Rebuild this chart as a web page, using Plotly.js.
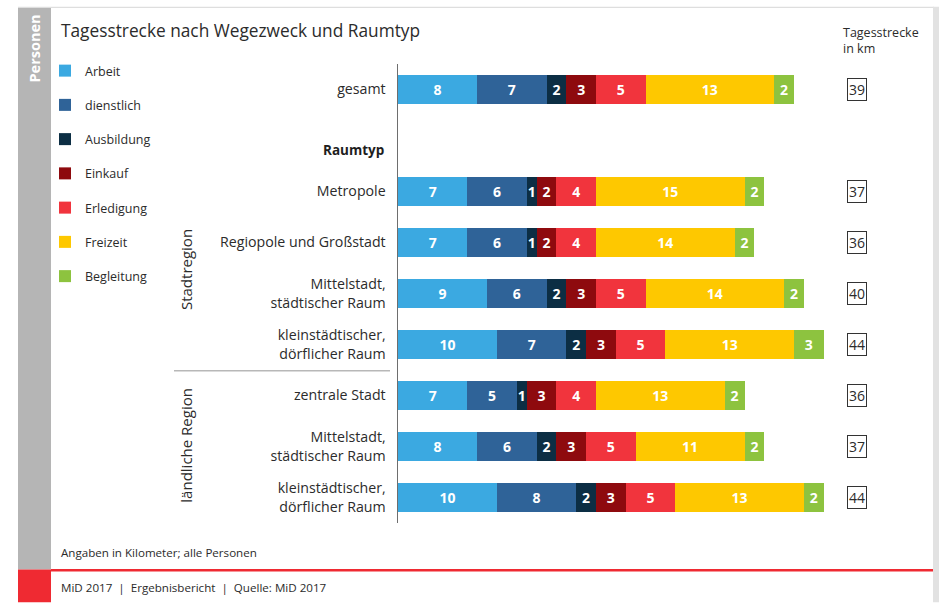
<!DOCTYPE html>
<html>
<head>
<meta charset="utf-8">
<script src="https://cdn.plot.ly/plotly-3.0.1.min.js"></script>
<style>
  html, body { margin: 0; padding: 0; background: #fff; }
  #chart { width: 940px; height: 603px; }
</style>
</head>
<body>
<div id="chart"></div>
<script>
// Rows of the chart (ids keep duplicate labels apart on the category axis)
const rowIds = ['gesamt', 'metropole', 'regiopole', 'mittel_stadt', 'klein_stadt',
                'zentral_land', 'mittel_land', 'klein_land'];
const rowLabels = ['gesamt', 'Metropole', 'Regiopole und Großstadt',
                   'Mittelstadt,<br>städtischer Raum', 'kleinstädtischer,<br>dörflicher Raum',
                   'zentrale Stadt', 'Mittelstadt,<br>städtischer Raum',
                   'kleinstädtischer,<br>dörflicher Raum'];
const headerId = 'raumtyp';
const headerLabel = 'Raumtyp';

// Trip purposes (km per person and day)
const purposes = ['Arbeit', 'dienstlich', 'Ausbildung', 'Einkauf', 'Erledigung', 'Freizeit', 'Begleitung'];
const arbeit     = [8, 7, 7, 9, 10, 7, 8, 10];
const dienstlich = [7, 6, 6, 6, 7, 5, 6, 8];
const ausbildung = [2, 1, 1, 2, 2, 1, 2, 2];
const einkauf    = [3, 2, 2, 3, 3, 3, 3, 3];
const erledigung = [5, 4, 4, 5, 5, 4, 5, 5];
const freizeit   = [13, 15, 14, 14, 13, 13, 11, 13];
const begleitung = [2, 2, 2, 2, 3, 2, 2, 2];
const totals     = [39, 37, 36, 40, 44, 36, 37, 44];

const series = [arbeit, dienstlich, ausbildung, einkauf, erledigung, freizeit, begleitung];
const colors = ['#3ba9e1', '#2f6398', '#0c2e44', '#8e0a0e', '#f1343d', '#fec800', '#8dc33f'];

const FONT = '"Open Sans", "Noto Sans", sans-serif';
const TEXT = '#2b2b2b';

// Page geometry in pixels; the plot area sits between these edges
const W = 940, H = 603;
const L = 398, R = 828, T = 63.5, B = 523.5;
const px = x => (x - L) / (R - L);
const py = y => (B - y) / (B - T);

const traces = purposes.map((name, i) => ({
  type: 'bar',
  orientation: 'h',
  name: name,
  legendgroup: name,
  y: rowIds,
  x: series[i],
  text: series[i].map(String),
  texttemplate: '%{text}',
  textposition: 'inside',
  insidetextanchor: 'middle',
  textangle: 0,
  textfont: { family: FONT, size: 14, color: '#ffffff', weight: 'bold' },
  marker: { color: colors[i], line: { width: 0 } },
  width: 0.56,
  hoverinfo: 'name+x'
}));

const annotations = [];
// Title
annotations.push({
  xref: 'paper', yref: 'paper', x: px(59), y: py(30), xanchor: 'left', yanchor: 'middle',
  text: 'Tagesstrecke nach Wegezweck und Raumtyp', showarrow: false,
  font: { family: FONT, size: 17.3, color: TEXT }
});
// Sidebar label
annotations.push({
  xref: 'paper', yref: 'paper', x: px(35), y: py(48), xanchor: 'center', yanchor: 'middle',
  text: '<b>Personen</b>', textangle: -90, showarrow: false,
  font: { family: FONT, size: 14.5, color: '#ffffff' }
});
// Header row for the area types
annotations.push({
  xref: 'paper', yref: 'paper', x: px(386), y: py(150), xanchor: 'right', yanchor: 'middle',
  text: '<b>' + headerLabel + '</b>', showarrow: false,
  font: { family: FONT, size: 13.5, color: '#1e1e1e' }
});
// Header above the total column
annotations.push({
  xref: 'paper', yref: 'paper', x: px(841), y: py(21), xanchor: 'left', yanchor: 'top',
  text: 'Tagesstrecke<br>in km', align: 'left', showarrow: false,
  font: { family: FONT, size: 12.5, color: TEXT }
});
// Region groups
annotations.push({
  xref: 'paper', yref: 'paper', x: px(186), y: py(270), xanchor: 'center', yanchor: 'middle',
  text: 'Stadtregion', textangle: -90, showarrow: false,
  font: { family: FONT, size: 15, color: TEXT }
});
annotations.push({
  xref: 'paper', yref: 'paper', x: px(186), y: py(446), xanchor: 'center', yanchor: 'middle',
  text: 'ländliche Region', textangle: -90, showarrow: false,
  font: { family: FONT, size: 15, color: TEXT }
});
// Total distance per row, boxed
rowIds.forEach((id, i) => {
  annotations.push({
    xref: 'paper', yref: 'y', x: px(857), y: id, xanchor: 'center', yanchor: 'middle',
    text: String(totals[i]), showarrow: false,
    bordercolor: '#333333', borderwidth: 1, borderpad: 1,
    font: { family: FONT, size: 14, color: TEXT }
  });
});
// Footnotes
annotations.push({
  xref: 'paper', yref: 'paper', x: px(59), y: py(553), xanchor: 'left', yanchor: 'middle',
  text: 'Angaben in Kilometer; alle Personen', showarrow: false,
  font: { family: FONT, size: 11.6, color: TEXT }
});
annotations.push({
  xref: 'paper', yref: 'paper', x: px(59), y: py(588), xanchor: 'left', yanchor: 'middle',
  text: 'MiD 2017  |  Ergebnisbericht  |  Quelle: MiD 2017', showarrow: false,
  font: { family: FONT, size: 11.6, color: TEXT }
});

const rect = (x0, y0, x1, y1, color) => ({
  type: 'rect', xref: 'paper', yref: 'paper', layer: 'below',
  x0: px(x0), x1: px(x1), y0: py(y0), y1: py(y1),
  fillcolor: color, line: { width: 0 }
});

const shapes = [
  rect(18, 7, 51, 570, '#b5b5b5'),          // grey side band
  rect(18, 570, 51, 603, '#ef2a32'),        // red corner block
  rect(51, 569.5, 934, 572, '#ef2a32'),     // red footer rule
  rect(18, 6, 934, 7.5, '#dedede'),         // top frame line
  rect(933, 6, 939, 603, '#e2e2e2'),        // right frame band
  { type: 'line', xref: 'paper', yref: 'paper',
    x0: px(174), x1: px(390), y0: py(371), y1: py(371),
    line: { color: '#b8b8b8', width: 1.5 } }
];

const layout = {
  width: W, height: H,
  margin: { l: L, r: W - R, t: T, b: H - B, pad: 0 },
  paper_bgcolor: '#ffffff', plot_bgcolor: '#ffffff',
  barmode: 'stack',
  bargap: 0.44,
  font: { family: FONT, size: 13, color: TEXT },
  uniformtext: { minsize: 14, mode: 'show' },
  showlegend: true,
  legend: {
    xref: 'container', yref: 'container',
    x: 45 / W, y: 1 - 56 / H, xanchor: 'left', yanchor: 'top',
    orientation: 'v', traceorder: 'grouped', tracegroupgap: 15,
    font: { family: FONT, size: 12.5, color: TEXT },
    bgcolor: 'rgba(0,0,0,0)', itemwidth: 30
  },
  xaxis: {
    range: [0, (R - L) / 9.9], showgrid: false, zeroline: false,
    showticklabels: false, ticks: '', showline: false, fixedrange: true
  },
  yaxis: {
    type: 'category',
    categoryorder: 'array',
    categoryarray: [rowIds[0], headerId].concat(rowIds.slice(1)),
    tickmode: 'array',
    tickvals: rowIds,
    ticktext: rowLabels,
    autorange: 'reversed',
    showgrid: false, zeroline: false,
    showline: true, linecolor: '#6e6e6e', linewidth: 1.5,
    ticks: '', ticklabelstandoff: 8,
    tickfont: { family: FONT, size: 14.2, color: TEXT },
    fixedrange: true
  },
  annotations: annotations,
  shapes: shapes
};

Plotly.newPlot('chart', traces, layout, { displayModeBar: false, staticPlot: true });
</script>
</body>
</html>
